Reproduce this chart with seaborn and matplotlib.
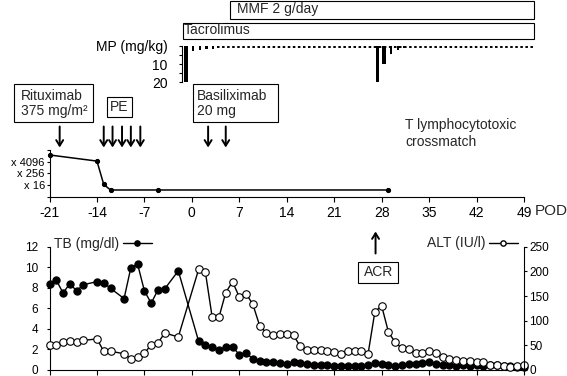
import pandas as pd
import seaborn as sns
import matplotlib.pyplot as plt
import matplotlib.transforms as mtransforms
from matplotlib.patches import Rectangle
from matplotlib.lines import Line2D

# 검사 수치 (POD 기준 일자)
lab_days = [-21, -20, -19, -18, -17, -16, -14, -13, -12, -10, -9, -8, -7, -6, -5, -4, -2,
            1, 2, 3, 4, 5, 6, 7, 8, 9, 10,
            11, 12, 13, 14, 15, 16, 17, 18, 19, 20,
            21, 22, 23, 24, 25, 26, 27, 28, 29, 30,
            31, 32, 33, 34, 35, 36, 37, 38, 39, 40,
            41, 42, 43, 44, 45, 46, 47, 48, 49]
tb = [8.4, 8.75, 7.5, 8.4, 7.7, 8.3, 8.6, 8.5, 7.95, 6.95, 9.95, 10.3, 7.7, 6.5, 7.8, 7.9, 9.65,
      2.8, 2.4, 2.25, 1.95, 2.25, 2.25, 1.5, 1.7, 1.05, 0.85,
      0.8, 0.75, 0.65, 0.6, 0.8, 0.7, 0.6, 0.5, 0.5, 0.45,
      0.42, 0.4, 0.4, 0.4, 0.35, 0.45, 0.7, 0.6, 0.45, 0.35,
      0.5, 0.55, 0.55, 0.7, 0.8, 0.55, 0.45, 0.45, 0.4, 0.45,
      0.4, 0.45, 0.4, 0.5, 0.5, 0.4, 0.35, 0.3, 0.3]
alt = [51, 50, 56, 59, 57, 60, 63, 38, 38, 33, 22, 27, 34, 51, 55, 75, 67,
       204, 198, 107, 107, 157, 179, 148, 155, 133, 90,
       75, 70, 72, 72, 70, 48, 41, 40, 41, 38,
       36, 33, 39, 39, 38, 33, 118, 130, 77, 56,
       44, 42, 34, 34, 38, 34, 26, 23, 21, 19,
       19, 17, 16, 10, 10, 8, 6, 8, 10]

# T lymphocytotoxic crossmatch (log2 역가)
xm_days = [-21, -14, -13, -12, -5, 29]
xm_log2 = [14.3, 12.2, 4.2, 2.3, 2.3, 2.3]
xm_ticks = [0, 4, 8, 12, 16]
xm_ticklabels = ['', 'x 16', 'x 256', 'x 4096', '']

# 메틸프레드니솔론 (mg/kg)
mp_days = [0, 1, 2, 3, 4, 28, 29, 30, 31, 32]
mp_dose = [20, 2.8, 2.2, 1.8, 1.4, 20, 10, 4.5, 2.2, 1.3]
mp_maint = [4.6, 51]

tac_period = [-0.5, 51]
mmf_period = [6.4, 51]

rituximab_days = [-19.5]
pe_days = [-13, -11.7, -10.3, -9, -7.6]
basiliximab_days = [2.4, 5]
acr_day = 27.1

pod_ticks = [-21, -14, -7, 0, 7, 14, 21, 28, 35, 42, 49]

# 레이아웃 (픽셀 기준)
W, H = 567, 376
sns.set_style('ticks')
plt.rcParams['font.family'] = ['Liberation Sans', 'DejaVu Sans']
plt.rcParams['axes.linewidth'] = 0.8
plt.rcParams['axes.edgecolor'] = 'black'
plt.rcParams['xtick.color'] = 'black'
plt.rcParams['ytick.color'] = 'black'

fig = plt.figure(figsize=(W / 100, H / 100), dpi=100)


def rect(x0, y0, x1, y1):
    return [x0 / W, 1 - y1 / H, (x1 - x0) / W, (y1 - y0) / H]


def fy(y):
    return 1 - y / H


def box(x0, y0, x1, y1):
    fig.add_artist(Rectangle((x0 / W, fy(y1)), (x1 - x0) / W, (y1 - y0) / H,
                             transform=fig.transFigure, fill=False, lw=0.8, ec='black'))


def text(x, y, s, **kw):
    kw.setdefault('fontsize', 10)
    fig.text(x / W, fy(y), s, **kw)


# --- 하단: TB / ALT ---
ax = fig.add_axes(rect(49.5, 246.7, 524, 370))
ax2 = ax.twinx()
df = pd.DataFrame({'day': lab_days, 'TB': tb, 'ALT': alt})
sns.lineplot(data=df, x='day', y='TB', ax=ax, color='black', lw=1, marker='o',
             markersize=5.2, markerfacecolor='black', markeredgecolor='black',
             markeredgewidth=0.8, clip_on=False)
sns.lineplot(data=df, x='day', y='ALT', ax=ax2, color='black', lw=1, marker='o',
             markersize=5.4, markerfacecolor='white', markeredgecolor='black',
             markeredgewidth=0.8, clip_on=False)
ax.set_xlim(-21, 49)
ax.set_ylim(0, 12)
ax2.set_ylim(0, 250)
ax.set_xticks(pod_ticks)
ax.set_xticklabels([])
ax.set_yticks([0, 2, 4, 6, 8, 10, 12])
ax2.set_yticks([0, 50, 100, 150, 200, 250])
ax.set_xlabel('')
ax.set_ylabel('')
ax2.set_ylabel('')
for s in ['top', 'right']:
    ax.spines[s].set_visible(False)
for s in ['top', 'left', 'bottom']:
    ax2.spines[s].set_visible(False)
ax.tick_params(axis='x', length=3.6, width=0.8)
ax.tick_params(axis='y', length=2.4, width=0.8, pad=6, labelsize=8.5)
ax2.tick_params(axis='y', length=2.4, width=0.8, pad=1.5, labelsize=8.5)

h_tb = Line2D([], [], color='black', lw=1, marker='o', markersize=3.8,
              markerfacecolor='black', markeredgecolor='black')
h_alt = Line2D([], [], color='black', lw=1, marker='o', markersize=3.8,
               markerfacecolor='white', markeredgecolor='black')
ax.legend([h_tb], ['TB (mg/dl)'], loc='center left', bbox_to_anchor=(54 / W, fy(244)),
          bbox_transform=fig.transFigure, frameon=False, markerfirst=False,
          handlelength=2.1, handletextpad=0.25, borderpad=0, borderaxespad=0, fontsize=10)
ax2.legend([h_alt], ['ALT (IU/l)'], loc='center left', bbox_to_anchor=(426.7 / W, fy(243.5)),
           bbox_transform=fig.transFigure, frameon=False, markerfirst=False,
           handlelength=2.1, handletextpad=0.25, borderpad=0, borderaxespad=0, fontsize=10)

# ACR
bl_b = mtransforms.blended_transform_factory(ax.transData, fig.transFigure)
ax.annotate('', xy=(acr_day, fy(231.5)), xytext=(acr_day, fy(253.5)), xycoords=bl_b,
            textcoords=bl_b, annotation_clip=False,
            arrowprops=dict(arrowstyle='->,head_length=0.4,head_width=0.25', lw=1.4,
                            color='black', shrinkA=0, shrinkB=0))
box(358.3, 261.7, 398.3, 283.3)
text(378.3, 272.5, 'ACR', ha='center', va='center')

# --- 중단: crossmatch ---
axm = fig.add_axes(rect(49.5, 150, 524, 196.7))
sns.lineplot(x=xm_days, y=xm_log2, ax=axm, color='black', lw=1.1, marker='o',
             markersize=3, markerfacecolor='black', markeredgecolor='black', clip_on=False)
axm.set_xlim(-21, 49)
axm.set_ylim(0, 16)
axm.set_xticks(pod_ticks)
axm.set_xticklabels([str(t) for t in pod_ticks])
axm.set_yticks(xm_ticks)
axm.set_yticklabels(xm_ticklabels)
for s in ['top', 'right']:
    axm.spines[s].set_visible(False)
axm.tick_params(axis='x', length=3.6, width=0.8, pad=3.4, labelsize=10)
axm.tick_params(axis='y', length=2.4, width=0.8, pad=1, labelsize=8)
text(535, 211, 'POD', fontsize=11, va='center', ha='left')

bl_m = mtransforms.blended_transform_factory(axm.transData, fig.transFigure)
for d in rituximab_days + pe_days + basiliximab_days:
    axm.annotate('', xy=(d, fy(147.5)), xytext=(d, fy(126.5)), xycoords=bl_m,
                 textcoords=bl_m, annotation_clip=False,
                 arrowprops=dict(arrowstyle='->,head_length=0.4,head_width=0.25', lw=1.4,
                                 color='black', shrinkA=0, shrinkB=0))

box(14, 84, 92.7, 122.3)
text(20.7, 100, 'Rituximab', va='baseline')
text(20.7, 115.5, '375 mg/m²', va='baseline')
box(107.3, 96.7, 131.7, 116.7)
text(119.5, 106.7, 'PE', ha='center', va='center')
box(192.7, 84, 277.8, 122.3)
text(197.3, 100, 'Basiliximab', va='baseline')
text(197.3, 115.5, '20 mg', va='baseline')
text(405, 129, 'T lymphocytotoxic', va='baseline')
text(405, 146, 'crossmatch', va='baseline')

# --- 상단: MP / Tacrolimus / MMF ---
axp = fig.add_axes(rect(181.5, 46, 535, 82))
axp.set_facecolor('none')
axp.set_xlim(-0.66, 51.1)
axp.set_ylim(20, 0)
widths = [0.5 if d >= 10 else 0.33 for d in mp_dose]
axp.bar(mp_days, mp_dose, width=widths, color='black', lw=0)
axp.plot(mp_maint, [0.6, 0.6], color='black', lw=1.4, dashes=(1.3, 1.3))
axp.set_yticks([0, 10, 20])
axp.set_yticklabels(['MP (mg/kg)', '10', '20'])
axp.set_yticks([5, 15], minor=True)
axp.tick_params(axis='y', which='both', length=2.4, width=0.8, pad=7.5, labelsize=10)
for s in ['top', 'right', 'bottom']:
    axp.spines[s].set_visible(False)
axp.xaxis.set_visible(False)

bl_p = mtransforms.blended_transform_factory(axp.transData, fig.transFigure)
for (start, end), (top, bot), name, dx in [(tac_period, (22.7, 39), 'Tacrolimus', 1.2),
                                           (mmf_period, (0.7, 18.5), 'MMF 2 g/day', 7.3)]:
    axp.add_patch(Rectangle((start, fy(bot)), end - start, (bot - top) / H, transform=bl_p,
                            fill=False, lw=0.8, ec='black', clip_on=False))
    tr = mtransforms.offset_copy(bl_p, fig=fig, x=dx * 0.72, units='points')
    axp.text(start, fy(bot - 5.5), name, transform=tr, fontsize=10, va='baseline',
             clip_on=False)

fig.savefig('out.png', dpi=100)
